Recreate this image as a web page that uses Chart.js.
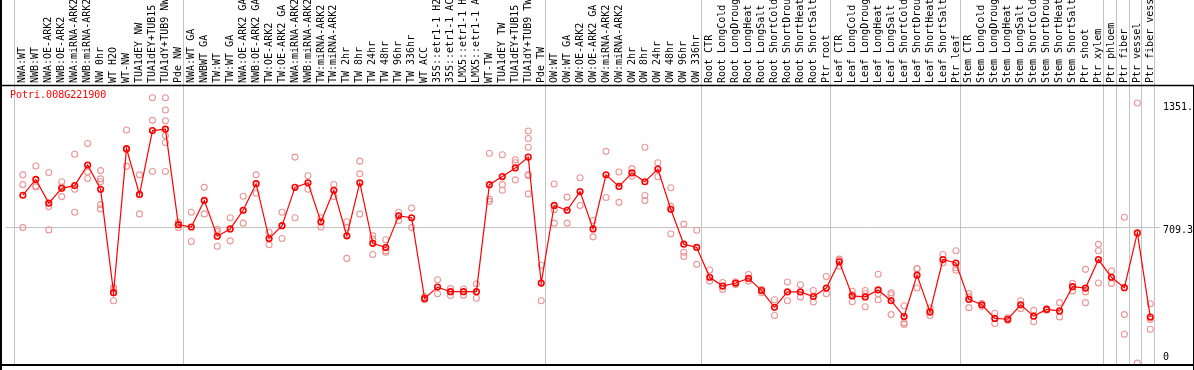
<!DOCTYPE html>
<html>
<head>
<meta charset="utf-8">
<script src="https://cdn.jsdelivr.net/npm/chart.js@4.4.0/dist/chart.umd.min.js"></script>
<style>
  html, body { margin: 0; padding: 0; background: #fff; }
  canvas { display: block; }
</style>
</head>
<body>
<canvas id="expr" width="1194" height="370"></canvas>
<script>
// -------------------- DATA --------------------
const geneName = "Potri.008G221900";

const samples = [
  "NWA:WT", "NWB:WT", "NWA:OE-ARK2", "NWB:OE-ARK2", "NWA:miRNA-ARK2", "NWB:miRNA-ARK2",
  "NW 0hr", "WT H2O", "WT-NW", "TUA1dEY NW", "TUA1dEY+TUB15 NW", "TUA1dY+TUB9 NW", "Pde NW",
  "NWA:WT GA", "NWBWT GA", "TW:WT", "TW:WT GA", "NWA:OE-ARK2 GA", "NWB:OE-ARK2 GA",
  "TW:OE-ARK2", "TW:OE-ARK2 GA", "NWA:miRNA-ARK2 GA", "NWB:miRNA-ARK2 GA", "TW:miRNA-ARK2",
  "TW:miRNA-ARK2 GA", "TW 2hr", "TW 8hr", "TW 24hr", "TW 48hr", "TW 96hr", "TW 336hr",
  "WT ACC", "35S::etr1-1 H2O", "35S::etr1-1 ACC", "LMX5::etr1-1 H2O", "LMX5::etr1-1 ACC",
  "WT-TW", "TUA1dEY TW", "TUA1dEY+TUB15 TW", "TUA1dY+TUB9 TW", "Pde TW",
  "OW:WT", "OW:WT GA", "OW:OE-ARK2", "OW:OE-ARK2 GA", "OW:miRNA-ARK2", "OW:miRNA-ARK2 GA",
  "OW 2hr", "OW 8hr", "OW 24hr", "OW 48hr", "OW 96hr", "OW 336hr",
  "Root CTR", "Root LongCold", "Root LongDrought", "Root LongHeat", "Root LongSalt",
  "Root ShortCold", "Root ShortDrought", "Root ShortHeat", "Root ShortSalt", "Ptr root",
  "Leaf CTR", "Leaf LongCold", "Leaf LongDrought", "Leaf LongHeat", "Leaf LongSalt",
  "Leaf ShortCold", "Leaf ShortDrought", "Leaf ShortHeat", "Leaf ShortSalt", "Ptr leaf",
  "Stem CTR", "Stem LongCold", "Stem LongDrought", "Stem LongHeat", "Stem LongSalt",
  "Stem ShortCold", "Stem ShortDrought", "Stem ShortHeat", "Stem ShortSalt", "Ptr shoot",
  "Ptr xylem", "Ptr phloem", "Ptr fiber", "Ptr vessel", "Ptr fiber vessel"
];

// mean expression per sample
const means = [
  872, 954, 831, 908, 922, 1029, 903, 366, 1114, 876, 1208, 1215, 719,
  707, 845, 659, 697, 794, 932, 647, 714, 913, 937, 734, 898, 661, 937, 622, 600, 765, 755,
  336, 395, 371, 371, 371, 927, 969, 1014, 1070, 416,
  819, 794, 891, 697, 978, 918, 988, 942, 1008, 799, 618, 601,
  446, 400, 416, 440, 377, 290, 370, 370, 346, 390,
  526, 349, 344, 380, 324, 242, 457, 266, 538, 520,
  331, 303, 232, 228, 303, 244, 279, 271, 397, 390, 538,
  446, 392, 676, 239
];

// single replicates per sample
const replicates = [
  [978, 927, 704], [1024, 920, 915], [990, 813, 692], [942, 865, 915], [1085, 903, 784],
  [1141, 993, 959], [1000, 957, 942, 823, 801], [392, 324, 385], [1211, 1022, 1110],
  [978, 775, 876], [1378, 1261, 995], [1378, 1315, 1259, 1182, 1146, 995], [731, 704, 719],
  [784, 632], [913, 775], [695, 683, 607], [755, 635], [867, 727], [978, 882], [680, 615],
  [784, 647], [1070, 755], [973, 903], [755, 707], [928, 865], [734, 704, 544],
  [1049, 983, 774], [661, 644, 564], [641, 584, 576], [784, 741], [806, 704],
  [346, 329], [433, 360], [387, 351], [385, 353], [412, 337],
  [1090, 852, 840], [1082, 927, 898], [1056, 1041, 952], [1206, 1167, 1121, 980, 973, 879],
  [508, 324],
  [930, 797, 727], [862, 727], [963, 819], [741, 656], [1100, 860], [993, 835], [1010, 971],
  [1121, 871, 845], [1041, 968], [911, 814, 671], [722, 576, 554], [690, 513],
  [484, 426], [419, 383], [423, 409], [460, 426], [383, 366], [329, 247], [421, 324],
  [407, 343], [377, 317], [450, 360],
  [540, 535, 503], [373, 319, 355], [377, 293, 362], [462, 329, 360], [365, 252, 355],
  [298, 210, 201], [491, 390, 490], [286, 247, 265], [564, 521], [584, 482, 495],
  [361, 288, 344], [295, 310], [259, 206], [235, 222], [324, 283], [274, 215], [283, 275],
  [314, 240], [414, 375], [487, 314, 370], [617, 584, 416],
  [479, 414], [758, 252, 150], [1351, 0], [308, 227, 176]
];

// right axis labels
const yTicks = [0, 709.3, 1351];
const yTickLabels = ["0", "709.3", "1351."];

// sample index where a new group starts (vertical separators)
const groupBreaks = [0, 13, 41, 53, 63, 73, 84, 85, 86, 87, 88];

// -------------------- DRAW HELPERS --------------------
const MONO = "10px 'DejaVu Sans Mono', monospace";

const frame = {
  id: "frame",
  beforeDatasetsDraw(chart) {
    const { ctx, chartArea: a, scales: { x, y } } = chart;
    ctx.save();
    ctx.strokeStyle = "#c4c4c4";
    ctx.lineWidth = 1;
    // horizontal guide at the middle tick
    const gy = Math.round(y.getPixelForValue(yTicks[1])) + 0.5;
    ctx.beginPath();
    ctx.moveTo(a.left, gy);
    ctx.lineTo(a.right + 4, gy);
    ctx.stroke();
    // group separators run through the label strip too
    groupBreaks.forEach(k => {
      const gx = Math.round(x.getPixelForValue(k - 0.68)) + 0.5;
      ctx.beginPath();
      ctx.moveTo(gx, 0);
      ctx.lineTo(gx, a.bottom);
      ctx.stroke();
    });
    ctx.restore();
  },
  afterDraw(chart) {
    const { ctx, chartArea: a, scales: { x, y }, width } = chart;
    ctx.save();
    ctx.font = MONO;
    ctx.fillStyle = "#000";

    // rotated sample names above the plot
    ctx.textAlign = "left";
    ctx.textBaseline = "middle";
    samples.forEach((s, i) => {
      ctx.save();
      ctx.translate(x.getPixelForValue(i), a.top - 2);
      ctx.rotate(-Math.PI / 2);
      ctx.fillText(s, 0, 0);
      ctx.restore();
    });

    // right side value labels
    yTicks.forEach((v, i) => {
      const py = Math.min(y.getPixelForValue(v) + 4, a.bottom - 7);
      ctx.fillText(yTickLabels[i], a.right + 7, py);
    });

    // gene name
    ctx.fillStyle = "#ff0000";
    ctx.fillText(geneName, 10, a.top + 10);

    // black frame lines
    ctx.strokeStyle = "#000";
    ctx.lineWidth = 1.5;
    ctx.beginPath();
    ctx.moveTo(0, a.top + 0.5);
    ctx.lineTo(width, a.top + 0.5);
    ctx.stroke();
    ctx.lineWidth = 2;
    ctx.beginPath();
    ctx.moveTo(0, a.bottom + 0.5);
    ctx.lineTo(width, a.bottom + 0.5);
    ctx.moveTo(1, 0);
    ctx.lineTo(1, chart.height);
    ctx.stroke();
    ctx.lineWidth = 1;
    ctx.beginPath();
    ctx.moveTo(width - 0.5, a.top);
    ctx.lineTo(width - 0.5, chart.height);
    ctx.stroke();
    ctx.restore();
  }
};

// -------------------- CHART --------------------
const meanPoints = means.map((v, i) => ({ x: i, y: v }));
const repPoints = [];
replicates.forEach((arr, i) => arr.forEach(v => repPoints.push({ x: i, y: v })));

new Chart(document.getElementById("expr"), {
  type: "scatter",
  data: {
    datasets: [
      {
        label: "mean",
        data: meanPoints,
        showLine: true,
        borderColor: "#ff0000",
        borderWidth: 1.2,
        pointRadius: 2.8,
        pointBorderWidth: 1.6,
        pointBorderColor: "#ff0000",
        pointBackgroundColor: "rgba(0,0,0,0)",
        order: 0
      },
      {
        label: "replicates",
        data: repPoints,
        showLine: false,
        pointRadius: 3,
        pointBorderWidth: 1.1,
        pointBorderColor: "rgb(236,150,150)",
        pointBackgroundColor: "rgba(0,0,0,0)",
        order: 1
      }
    ]
  },
  options: {
    responsive: false,
    animation: false,
    devicePixelRatio: 1,
    layout: { padding: { left: 2, right: 38, top: 85, bottom: 1 } },
    plugins: { legend: { display: false }, tooltip: { enabled: false } },
    scales: {
      x: { type: "linear", min: -1.331, max: 87.44, display: false },
      y: { type: "linear", min: -6.64, max: 1444.6, display: false }
    }
  },
  plugins: [frame]
});
</script>
</body>
</html>
